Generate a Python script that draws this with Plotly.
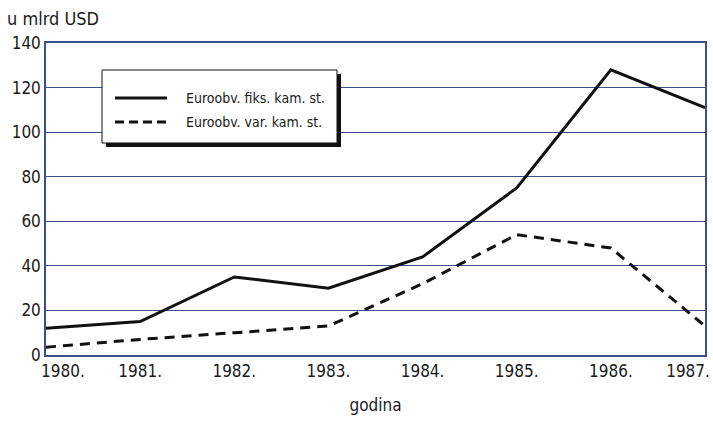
import plotly.graph_objects as go

# data (billions USD)
years = [1980, 1981, 1982, 1983, 1984, 1985, 1986, 1987]
fixed_rate = [12, 15, 35, 30, 44, 75, 128, 111]
floating_rate = [3.5, 7, 10, 13, 32, 54, 48, 13]
series_names = ['Euroobv. fiks. kam. st.', 'Euroobv. var. kam. st.']
tick_labels = [f'{y}.' for y in years]

FONT = 'DejaVu Sans Condensed, Liberation Sans Narrow, sans-serif'
GRID = '#3d4f86'
INK = '#111111'

W, H = 713, 424
L, R, T, B = 46, 8, 43, 69
pw, ph = W - L - R, H - T - B


# pixel -> paper helpers
def px(x):
    return (x - L) / pw


def py(y):
    return 1 - (y - T) / ph


dashes = ['solid', '10px,7px']
data = [
    go.Scatter(x=years, y=vals, mode='lines', name=name, showlegend=False,
               line={'color': INK, 'width': 3, 'dash': d})
    for vals, name, d in zip([fixed_rate, floating_rate], series_names, dashes)
]

# first and last year labels are pulled inward like in the original
shift = 0.18
tickvals = list(years)
tickvals[0] += shift
tickvals[-1] -= shift

# hand drawn legend box with drop shadow
bx0, by0, bx1, by1, sh = 102, 70, 337, 143, 4
shapes = [
    {'type': 'rect', 'xref': 'paper', 'yref': 'paper', 'layer': 'above',
     'x0': px(bx0 + sh), 'x1': px(bx1 + sh), 'y0': py(by1 + sh), 'y1': py(by0 + sh),
     'fillcolor': INK, 'line': {'width': 0}},
    {'type': 'rect', 'xref': 'paper', 'yref': 'paper', 'layer': 'above',
     'x0': px(bx0), 'x1': px(bx1), 'y0': py(by1), 'y1': py(by0),
     'fillcolor': 'white', 'line': {'width': 1, 'color': INK}},
]
annotations = [
    {'text': 'u mlrd USD', 'xref': 'paper', 'yref': 'paper', 'x': px(5), 'y': py(18),
     'xanchor': 'left', 'yanchor': 'middle', 'showarrow': False, 'font': {'size': 18}},
]
rows = [98, 122]
for name, d, ry in zip(series_names, ['solid', '9px,5px'], rows):
    shapes.append({'type': 'line', 'xref': 'paper', 'yref': 'paper', 'layer': 'above',
                   'x0': px(115), 'x1': px(167), 'y0': py(ry), 'y1': py(ry),
                   'line': {'color': INK, 'width': 3, 'dash': d}})
    annotations.append({'text': name, 'xref': 'paper', 'yref': 'paper',
                        'x': px(184), 'y': py(ry), 'xanchor': 'left', 'yanchor': 'middle',
                        'showarrow': False, 'font': {'size': 14}})

layout = go.Layout(
    width=W, height=H,
    margin={'l': L, 'r': R, 't': T, 'b': B},
    paper_bgcolor='white', plot_bgcolor='white',
    font={'family': FONT, 'color': '#1a1a1a', 'size': 17},
    xaxis={'range': [1980, 1987], 'showgrid': False, 'zeroline': False,
           'tickvals': tickvals, 'ticktext': tick_labels, 'ticks': '', 'automargin': False,
           'showline': True, 'linecolor': GRID, 'linewidth': 1.5, 'mirror': True,
           'title': {'text': 'godina', 'standoff': 19, 'font': {'size': 17}}},
    yaxis={'range': [0, 140], 'dtick': 20, 'showgrid': True, 'gridcolor': GRID,
           'gridwidth': 1.2, 'zeroline': False, 'ticks': '', 'automargin': False,
           'tickfont': {'size': 17},
           'showline': True, 'linecolor': GRID, 'linewidth': 1.5, 'mirror': True},
    showlegend=False,
    shapes=shapes,
    annotations=annotations,
)

fig = go.Figure(data=data, layout=layout)
# drop the browser's default body margin so the chart sits at the page corner
fig.write_html('out.html', config={'displayModeBar': False},
               post_script="document.body.style.margin='0';")
